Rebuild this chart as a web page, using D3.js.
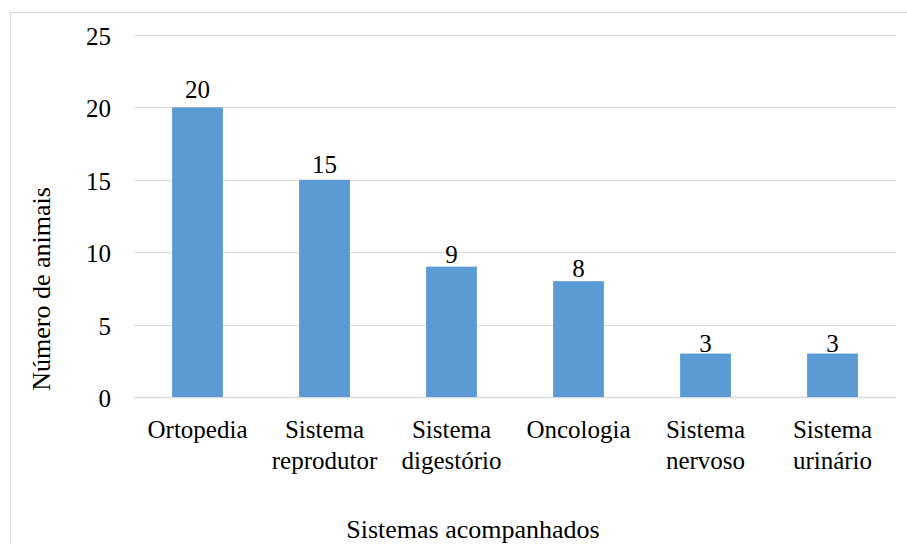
<!DOCTYPE html>
<html>
<head>
<meta charset="utf-8">
<script src="https://cdn.jsdelivr.net/npm/d3@7"></script>
<style>
  html, body { margin: 0; padding: 0; background: #fff; }
  svg { display: block; }
</style>
</head>
<body>
<svg id="chart" width="907" height="544"></svg>
<script>
const categories = [
  ["Ortopedia"],
  ["Sistema", "reprodutor"],
  ["Sistema", "digestório"],
  ["Oncologia"],
  ["Sistema", "nervoso"],
  ["Sistema", "urinário"]
];
const values = [20, 15, 9, 8, 3, 3];
const yTicks = [0, 5, 10, 15, 20, 25];
const xTitle = "Sistemas acompanhados";
const yTitle = "Número de animais";

const FONT = "Liberation Serif, Tinos, Times New Roman, Times, Nimbus Roman, Nimbus Roman No9 L, FreeSerif, Noto Serif, DejaVu Serif, Noto Serif CJK SC, Source Han Serif SC, serif";
const svg = d3.select("#chart");
const W = 907, H = 544;
const plot = { left: 134, right: 896, top: 35, bottom: 397 };

// chart border
svg.append("rect")
  .attr("x", 10.5).attr("y", 12.5)
  .attr("width", W).attr("height", H)
  .attr("fill", "#fff").attr("stroke", "#d9d9d9").attr("stroke-width", 1);

const keys = categories.map((c, i) => i);
const x = d3.scaleBand().domain(keys).range([plot.left, plot.right]).paddingInner(0.6).paddingOuter(0.3);
const y = d3.scaleLinear().domain([0, 25]).range([plot.bottom, plot.top]);
// data labels sit on a slightly stretched scale, as in the reference
const yLabel = d3.scaleLinear().domain([0, 25]).range([plot.bottom + 0.3, plot.bottom + 0.3 - 14.92 * 25]);

// gridlines
svg.append("g").selectAll("line")
  .data(yTicks)
  .join("line")
  .attr("x1", plot.left).attr("x2", plot.right)
  .attr("y1", d => Math.round(y(d)) + 0.5).attr("y2", d => Math.round(y(d)) + 0.5)
  .attr("stroke", "#d9d9d9").attr("stroke-width", d => d === 0 ? 1.5 : 1);

const txt = sel => sel.style("font-family", FONT).attr("fill", "#000");

// y tick labels
svg.append("g").selectAll("text")
  .data(yTicks)
  .join("text")
  .call(txt)
  .attr("x", 111)
  .attr("y", d => y(d) + 10)
  .attr("text-anchor", "end")
  .attr("font-size", 25)
  .text(d => d);

// bars
svg.append("g").selectAll("rect")
  .data(values)
  .join("rect")
  .attr("x", (d, i) => x(i))
  .attr("width", x.bandwidth())
  .attr("y", d => y(d))
  .attr("height", d => y(0) - y(d))
  .attr("fill", "#5b9bd5");

// data labels
svg.append("g").selectAll("text")
  .data(values)
  .join("text")
  .call(txt)
  .attr("x", (d, i) => x(i) + x.bandwidth() / 2)
  .attr("y", d => yLabel(d) - 0.5)
  .attr("text-anchor", "middle")
  .attr("font-size", 25)
  .text(d => d);

// category labels
const cat = svg.append("g").selectAll("text")
  .data(categories)
  .join("text")
  .call(txt)
  .attr("x", (d, i) => x(i) + x.bandwidth() / 2)
  .attr("y", 438)
  .attr("text-anchor", "middle")
  .attr("font-size", 25);
cat.selectAll("tspan")
  .data(d => d)
  .join("tspan")
  .attr("x", function () { return d3.select(this.parentNode).attr("x"); })
  .attr("dy", (d, i) => i === 0 ? 0 : 31)
  .text(d => d);

// axis titles
svg.append("text")
  .call(txt)
  .attr("x", 473).attr("y", 538)
  .attr("text-anchor", "middle")
  .attr("font-size", 26)
  .text(xTitle);

svg.append("text")
  .call(txt)
  .attr("transform", "translate(50,289) rotate(-90)")
  .attr("text-anchor", "middle")
  .attr("font-size", 26)
  .text(yTitle);
</script>
</body>
</html>
